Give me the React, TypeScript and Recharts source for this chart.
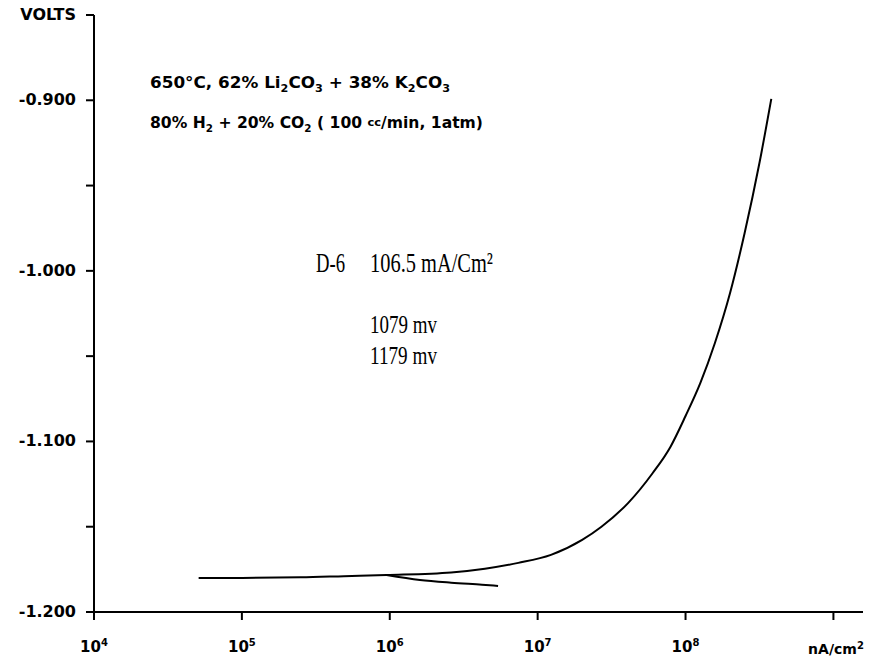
import { LineChart, Line, XAxis, YAxis } from "recharts";

// current density (nA/cm2) and potential (V)
const upperI = [5.1e4, 1.0e5, 2.5e5, 4.9e5, 9.5e5, 2.6e6, 4.4e6, 7.4e6, 1.23e7, 2.0e7, 2.7e7, 4.1e7, 6.0e7, 7.9e7, 1.0e8, 1.26e8, 1.58e8, 2.0e8, 2.51e8, 3.16e8, 3.8e8];
const upperV = [-1.18, -1.18, -1.1797, -1.179, -1.1783, -1.1768, -1.1746, -1.1712, -1.1665, -1.1577, -1.15, -1.136, -1.1185, -1.1032, -1.0851, -1.0657, -1.0423, -1.013, -0.9778, -0.9368, -0.8992];

const lowerI = [9.5e5, 1.6e6, 2.6e6, 4.2e6, 5.4e6];
const lowerV = [-1.1783, -1.1812, -1.1828, -1.184, -1.1847];

const xTicks = [1e4, 1e5, 1e6, 1e7, 1e8, 1e9];
const yTicks = [-1.2, -1.15, -1.1, -1.05, -1.0, -0.95, -0.9, -0.85];
const yLabels: Record<string, string> = {
  "-0.85": "VOLTS",
  "-0.9": "-0.900",
  "-1": "-1.000",
  "-1.1": "-1.100",
  "-1.2": "-1.200",
};

const upper = upperI.map((i, k) => ({ i, v: upperV[k] }));
const lower = lowerI.map((i, k) => ({ i, v: lowerV[k] }));

const SANS = "'DejaVu Sans', sans-serif";
const SERIF = "'Liberation Serif', serif";

const XTick = ({ x, y, payload }: any) => {
  const exp = Math.round(Math.log10(payload.value));
  if (exp === 9) {
    return (
      <text x={x + 4} y={y + 32} textAnchor="middle" fontFamily={SANS} fontWeight={700} fontSize={14} fill="#000">
        nA/cm<tspan dy={-5} fontSize={10}>2</tspan>
      </text>
    );
  }
  return (
    <text x={x} y={y + 30} textAnchor="middle" fontFamily={SANS} fontWeight={700} fontSize={15} fill="#000">
      10<tspan dy={-6} fontSize={10}>{exp}</tspan>
    </text>
  );
};

const YTick = ({ x, y, payload }: any) => {
  const key = String(Math.round(payload.value * 100) / 100);
  const label = yLabels[key];
  if (!label) return null;
  return (
    <text x={x} y={y} dy={5} textAnchor="end" fontFamily={SANS} fontWeight={700} fontSize={16} fill="#000">
      {label}
    </text>
  );
};

export default function App() {
  return (
    <div style={{ position: "absolute", left: 0, top: 0, width: 872, height: 657, background: "#fff" }}>
      <LineChart width={872} height={657} margin={{ top: 15, right: 9, left: 0, bottom: 0 }}>
        <XAxis
          type="number"
          dataKey="i"
          scale="log"
          domain={[1e4, Math.pow(10, 9.2)]}
          ticks={xTicks}
          allowDataOverflow
          height={45}
          tick={<XTick />}
          tickSize={8}
          axisLine={{ stroke: "#000", strokeWidth: 2 }}
          tickLine={{ stroke: "#000", strokeWidth: 2 }}
        />
        <YAxis
          type="number"
          dataKey="v"
          domain={[-1.2, -0.85]}
          ticks={yTicks}
          allowDataOverflow
          width={94}
          tick={<YTick />}
          tickSize={8}
          tickMargin={10}
          axisLine={{ stroke: "#000", strokeWidth: 2 }}
          tickLine={{ stroke: "#000", strokeWidth: 2 }}
        />
        <Line data={upper} dataKey="v" type="monotone" stroke="#000" strokeWidth={2} dot={false} isAnimationActive={false} />
        <Line data={lower} dataKey="v" type="monotone" stroke="#000" strokeWidth={2} dot={false} isAnimationActive={false} />
      </LineChart>
      <svg width={872} height={657} style={{ position: "absolute", left: 0, top: 0, pointerEvents: "none" }}>
        <text x={150} y={88} fontFamily={SANS} fontWeight={700} fontSize={15} fill="#000" textLength={300} lengthAdjust="spacingAndGlyphs">
          650°C, 62% Li<tspan dy={4} fontSize={10}>2</tspan>
          <tspan dy={-4}>CO</tspan>
          <tspan dy={4} fontSize={10}>3</tspan>
          <tspan dy={-4}> + 38% K</tspan>
          <tspan dy={4} fontSize={10}>2</tspan>
          <tspan dy={-4}>CO</tspan>
          <tspan dy={4} fontSize={10}>3</tspan>
        </text>
        <text x={150} y={128} fontFamily={SANS} fontWeight={700} fontSize={15} fill="#000" textLength={333} lengthAdjust="spacingAndGlyphs">
          80% H<tspan dy={4} fontSize={10}>2</tspan>
          <tspan dy={-4}> + 20% CO</tspan>
          <tspan dy={4} fontSize={10}>2</tspan>
          <tspan dy={-4}> ( 100 </tspan>
          <tspan fontSize={11} dy={-2}>cc</tspan>
          <tspan dy={2}>/min, 1atm)</tspan>
        </text>
        <text x={316} y={272} fontFamily={SERIF} fontSize={28} fill="#000" textLength={29} lengthAdjust="spacingAndGlyphs">
          D-6
        </text>
        <text x={370} y={272} fontFamily={SERIF} fontSize={28} fill="#000" textLength={123} lengthAdjust="spacingAndGlyphs">
          106.5 mA/Cm²
        </text>
        <text x={370} y={333} fontFamily={SERIF} fontSize={25} fill="#000" textLength={67} lengthAdjust="spacingAndGlyphs">
          1079 mv
        </text>
        <text x={370} y={364} fontFamily={SERIF} fontSize={25} fill="#000" textLength={67} lengthAdjust="spacingAndGlyphs">
          1179 mv
        </text>
      </svg>
    </div>
  );
}
